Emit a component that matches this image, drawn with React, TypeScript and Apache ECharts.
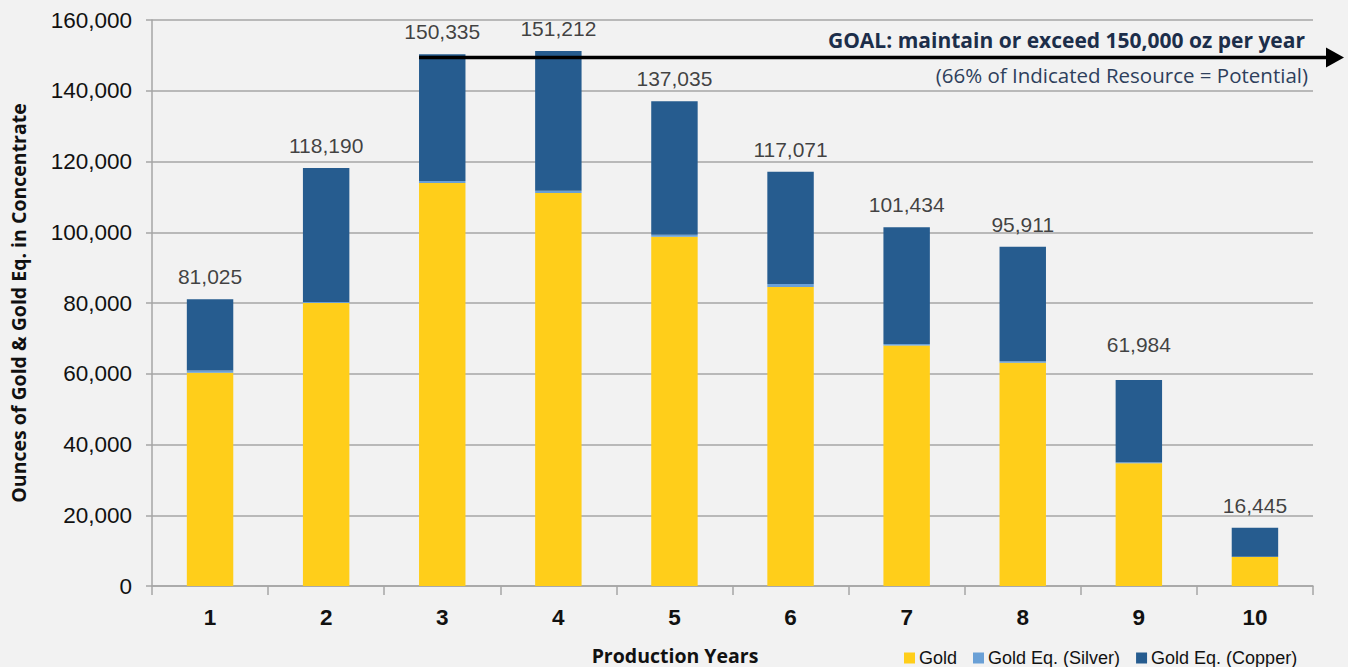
import React, { useEffect, useRef } from "react";
import * as echarts from "echarts";

const categories = ["1", "2", "3", "4", "5", "6", "7", "8", "9", "10"];
const gold = [60300, 80000, 113900, 111100, 98700, 84500, 68000, 63100, 34700, 8200];
const silver = [600, 300, 600, 600, 600, 900, 400, 400, 300, 100];
const copper = [20125, 37890, 35835, 39512, 37735, 31671, 33034, 32411, 23200, 8145];
const totalLabels = [81025, 118190, 150335, 151212, 137035, 117071, 101434, 95911, 61984, 16445];
const goalValue = 150000;
const goalStartCategory = "3";
const goalTitle = "GOAL: maintain or exceed 150,000 oz per year";
const goalSubtitle = "(66% of Indicated Resource = Potential)";

const fmt = (v: number) => Number(v).toLocaleString("en-US");

export default function App() {
  const ref = useRef<HTMLDivElement>(null);
  useEffect(() => {
    if (!ref.current) return;
    const chart = echarts.init(ref.current, null, { renderer: "svg" });
    const option: any = {
      animation: false,
      backgroundColor: "#f2f2f2",
      grid: { left: 151, right: 35, top: 20, bottom: 81, containLabel: false },
      legend: {
        data: ["Gold", "Gold Eq. (Silver)", "Gold Eq. (Copper)"],
        left: 899,
        top: 644,
        icon: "rect",
        itemWidth: 11,
        itemHeight: 11,
        itemGap: 16,
        textStyle: { fontFamily: "Liberation Sans", fontSize: 18, color: "#111", padding: [0, 0, 0, -1] },
      },
      xAxis: {
        type: "category",
        data: categories,
        axisLine: { lineStyle: { color: "#a6a6a6", width: 1.5 } },
        axisTick: { show: true, length: 9, lineStyle: { color: "#a6a6a6", width: 1.5 } },
        axisLabel: {
          fontFamily: "Liberation Sans",
          fontWeight: "bold",
          fontSize: 22.5,
          color: "#111",
          margin: 20,
        },
        splitLine: { show: false },
      },
      yAxis: {
        type: "value",
        min: 0,
        max: 160000,
        interval: 20000,
        name: "Ounces of Gold & Gold Eq. in Concentrate",
        nameLocation: "middle",
        nameGap: 124,
        nameTextStyle: { fontFamily: "Open Sans", fontWeight: "bold", fontSize: 19.5, color: "#111" },
        axisLine: { show: true, lineStyle: { color: "#a6a6a6", width: 1.5 } },
        axisTick: { show: true, length: 6, lineStyle: { color: "#a6a6a6", width: 1.5 } },
        axisLabel: {
          fontFamily: "Liberation Sans",
          fontSize: 22.5,
          color: "#111",
          margin: 20,
          formatter: (v: number) => fmt(v),
        },
        splitLine: { show: true, lineStyle: { color: "#a6a6a6", width: 1.5 } },
      },
      series: [
        { name: "Gold", type: "bar", stack: "total", barWidth: "40%", data: gold, itemStyle: { color: "#ffce1a" } },
        { name: "Gold Eq. (Silver)", type: "bar", stack: "total", data: silver, itemStyle: { color: "#6aa0d6" } },
        { name: "Gold Eq. (Copper)", type: "bar", stack: "total", data: copper, itemStyle: { color: "#265c8f" } },
        {
          name: "Total",
          type: "scatter",
          data: totalLabels,
          symbolSize: 0,
          silent: true,
          label: {
            show: true,
            position: "top",
            distance: 12,
            fontFamily: "Liberation Sans",
            fontSize: 21,
            color: "#111",
            formatter: (p: any) => fmt(p.value),
          },
          z: 5,
        },
      ],
    };
    chart.setOption(option);
    const y = chart.convertToPixel({ yAxisIndex: 0 }, goalValue) as number;
    const xc = chart.convertToPixel({ xAxisIndex: 0 }, goalStartCategory) as number;
    const band = (chart.convertToPixel({ xAxisIndex: 0 }, categories[1]) as number) -
      (chart.convertToPixel({ xAxisIndex: 0 }, categories[0]) as number);
    const xStart = xc - band * 0.2;
    const xEnd = 1344;
    chart.setOption({
      graphic: [
        {
          type: "line",
          shape: { x1: xStart, y1: y + 2, x2: xEnd - 16, y2: y + 2 },
          style: { stroke: "#000", lineWidth: 3.5 },
          z: 100,
        },
        {
          type: "polygon",
          shape: { points: [[xEnd - 18, y + 2 - 10], [xEnd, y + 2], [xEnd - 18, y + 2 + 10]] },
          style: { fill: "#000" },
          z: 100,
        },
        {
          type: "text",
          x: 1305,
          y: 40,
          style: {
            text: goalTitle,
            align: "right",
            verticalAlign: "middle",
            fontFamily: "Open Sans",
            fontWeight: "bold",
            fontSize: 21,
            fill: "#1c2e4a",
          },
          z: 100,
        },
        {
          type: "text",
          x: 1308,
          y: 75,
          style: {
            text: goalSubtitle,
            align: "right",
            verticalAlign: "middle",
            fontFamily: "Open Sans",
            fontSize: 20.5,
            fill: "#2e3f5c",
          },
          z: 100,
        },
        {
          type: "text",
          x: 675,
          y: 655,
          style: {
            text: "Production Years",
            align: "center",
            verticalAlign: "middle",
            fontFamily: "Open Sans",
            fontWeight: "bold",
            fontSize: 19.5,
            fill: "#111",
          },
          z: 100,
        },
      ],
    });
    return () => chart.dispose();
  }, []);
  return (
    <div
      ref={ref}
      style={{ position: "fixed", left: 0, top: 0, width: 1348, height: 667 }}
    />
  );
}
